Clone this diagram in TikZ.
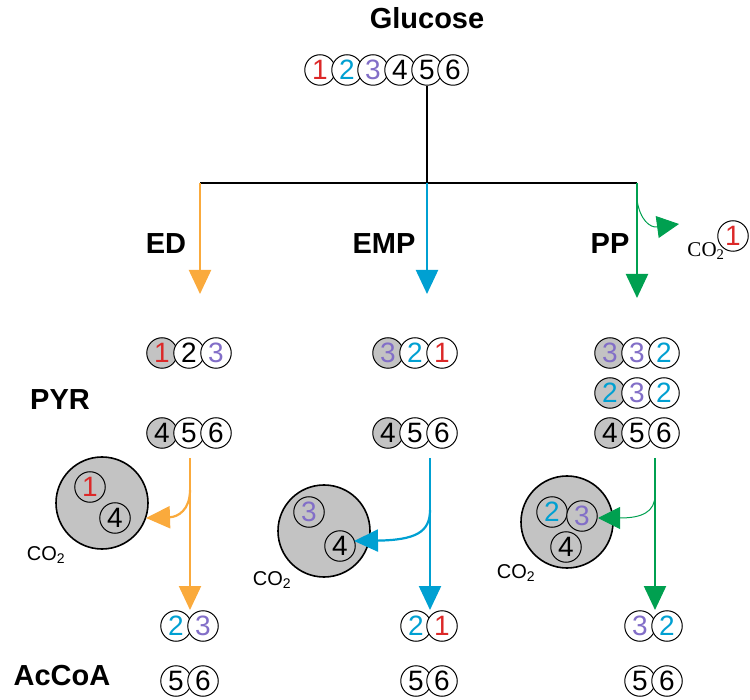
\documentclass[tikz,border=0pt]{standalone}
\usepackage{fontspec}
\setmainfont{Liberation Sans}
\newfontfamily\serifco{Liberation Serif}
\usetikzlibrary{arrows.meta}
\definecolor{cr}{RGB}{220,40,40}
\definecolor{cb}{RGB}{0,160,210}
\definecolor{cp}{RGB}{130,110,200}
\definecolor{co}{RGB}{250,170,60}
\definecolor{cg}{RGB}{0,160,80}
\definecolor{gf}{RGB}{195,195,195}
\tikzset{
 c/.style={circle,draw=black,line width=1pt,minimum size=30.5pt,inner sep=0pt,font=\fontsize{28}{28}\selectfont,fill=white},
 g/.style={c,fill=gf},
 big/.style={circle,draw=black,line width=1.6pt,fill=gf,minimum size=92pt,inner sep=0pt},
 lab/.style={font=\bfseries\fontsize{29}{29}\selectfont},
 co2/.style={font=\fontsize{20}{20}\selectfont},
 arr/.style={line width=2.2pt,-{Triangle[length=24pt,width=22pt]}},
 thin/.style={line width=1pt,-{Triangle[length=22pt,width=22pt]}},
 r/.style={text=cr},b/.style={text=cb},p/.style={text=cp}
}
\begin{document}
\begin{tikzpicture}[x=1pt,y=-1pt]
\useasboundingbox (0,0) rectangle (750,700);
\node[lab] (glc) at (427,18) {Glucose};
\node[c,r] (g1) at (320,70) {1};
\node[c,b] (g2) at (347,70) {2};
\node[c,p] (g3) at (373,70) {3};
\node[c] (g4) at (400,70) {4};
\node[c] (g5) at (427,70) {5};
\node[c] (g6) at (453,70) {6};
\coordinate (j) at (427,183);
\coordinate (jl) at (200,183);
\coordinate (jr) at (637,183);
\draw[line width=1.5pt] (g5.south) -- (j);
\draw[line width=1.5pt] (jl) -- (jr);
\coordinate (ea) at (200,294);
\coordinate (ma) at (427,294);
\coordinate (pa) at (637,298);
\draw[arr,co] (jl) -- (ea);
\draw[arr,cb] (j) -- (ma);
\draw[arr,cg] (jr) -- (pa);
\coordinate (pb) at (679,224);
\draw[thin,cg] (637,200) .. controls (640,220) and (650,228) .. (pb);
\node[co2,font=\serifco\fontsize{21}{21}\selectfont] (pco) at (706,251) {CO\textsubscript{2}};
\node[c,r] (pc1) at (733,236) {1};
\node[lab] (ed) at (166,244) {ED};
\node[lab] (emp) at (384,244) {EMP};
\node[lab] (pp) at (610,244) {PP};
\node[lab] (pyr) at (60,400) {PYR};
\node[lab] (acc) at (62,676) {AcCoA};
% ED
\node[g,r] (e1) at (162,353) {1};
\node[c] (e2) at (189,353) {2};
\node[c,p] (e3) at (216,353) {3};
\node[g] (e4) at (162,433) {4};
\node[c] (e5) at (189,433) {5};
\node[c] (e6) at (216,433) {6};
\node[big] (eb) at (102,503) {};
\node[c,r,fill=gf] (eb1) at (90,487) {1};
\node[c,fill=gf] (eb4) at (115,518) {4};
\node[co2] (eco) at (46,555) {CO\textsubscript{2}};
\coordinate (es) at (190,458);
\coordinate (ee) at (190,610);
\coordinate (ebr) at (146,518);
\draw[arr,co] (es) -- (ee);
\draw[arr,co] (190,490) .. controls (190,510) and (178,517) .. (ebr);
\node[c,b] (ea2) at (176,626) {2};
\node[c,p] (ea3) at (203,626) {3};
\node[c] (ea5) at (176,681) {5};
\node[c] (ea6) at (203,681) {6};
% EMP
\node[g,p] (m3) at (388,353) {3};
\node[c,b] (m2) at (415,353) {2};
\node[c,r] (m1) at (442,353) {1};
\node[g] (m4) at (388,433) {4};
\node[c] (m5) at (415,433) {5};
\node[c] (m6) at (442,433) {6};
\node[big] (mb) at (324,531) {};
\node[c,p,fill=gf] (mb3) at (309,512) {3};
\node[c,fill=gf] (mb4) at (340,546) {4};
\node[co2] (mco) at (272,580) {CO\textsubscript{2}};
\coordinate (ms) at (430,458);
\coordinate (me) at (430,610);
\coordinate (mbr) at (354,541);
\draw[arr,cb] (ms) -- (me);
\draw[arr,cb] (430,510) .. controls (430,532) and (416,540) .. (mbr);
\node[c,b] (ma2) at (416,626) {2};
\node[c,r] (ma1) at (442,626) {1};
\node[c] (ma5) at (416,681) {5};
\node[c] (ma6) at (442,681) {6};
% PP
\node[g,p] (pa3) at (610,353) {3};
\node[c,p] (pb3) at (637,353) {3};
\node[c,b] (pc2) at (664,353) {2};
\node[g,b] (pd2) at (610,393) {2};
\node[c,p] (pe3) at (637,393) {3};
\node[c,b] (pf2) at (664,393) {2};
\node[g] (p4) at (610,433) {4};
\node[c] (p5) at (637,433) {5};
\node[c] (p6) at (664,433) {6};
\node[big] (pbig) at (567,522) {};
\node[c,b,fill=gf] (pb2) at (552,512) {2};
\node[c,p,fill=gf] (pbb3) at (582,516) {3};
\node[c,fill=gf] (pb4) at (566,547) {4};
\node[co2] (pco2) at (516,573) {CO\textsubscript{2}};
\coordinate (ps) at (655,458);
\coordinate (pe) at (655,610);
\coordinate (pbr) at (598,518);
\draw[arr,cg] (ps) -- (pe);
\draw[thin,cg] (655,495) .. controls (655,512) and (642,518) .. (pbr);
\node[c,p] (pp3) at (640,626) {3};
\node[c,b] (pp2) at (667,626) {2};
\node[c] (pp5) at (640,681) {5};
\node[c] (pp6) at (667,681) {6};
\end{tikzpicture}
\end{document}
